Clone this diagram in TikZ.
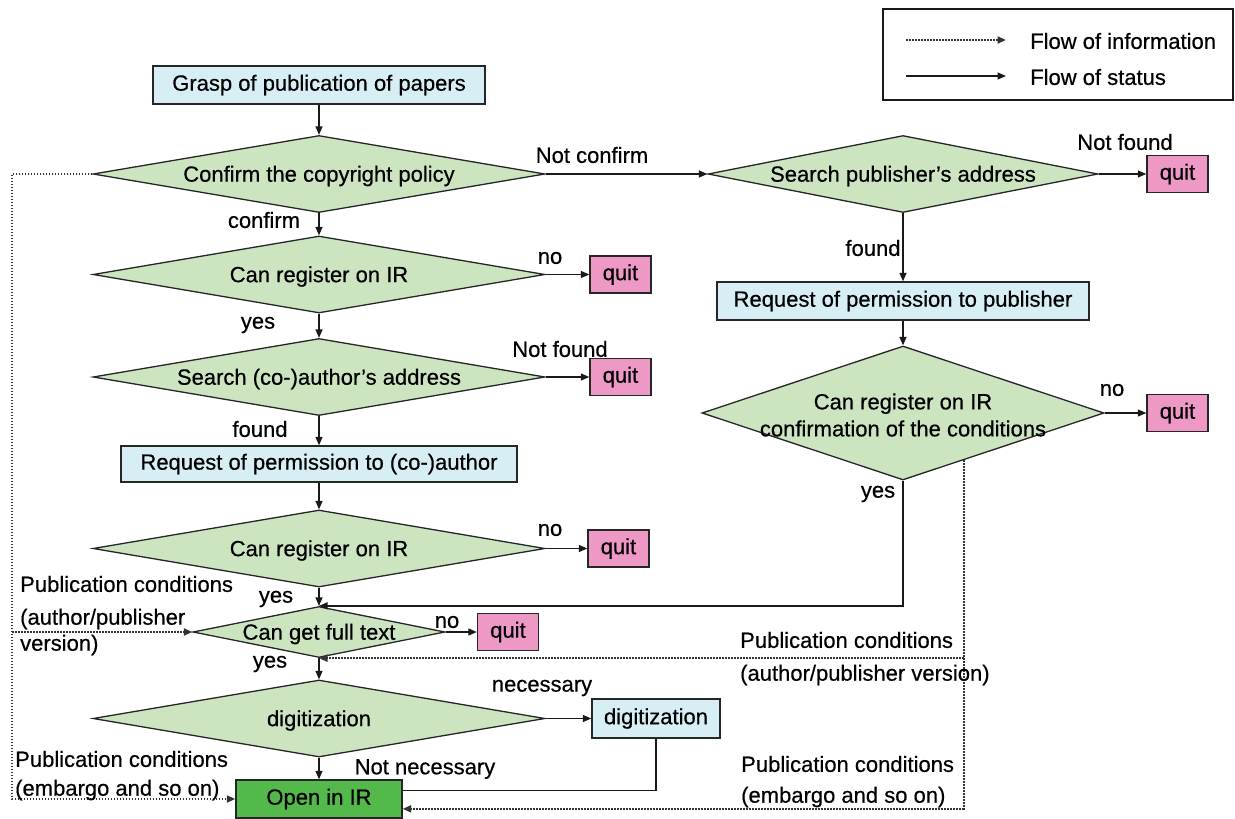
\documentclass[tikz,border=0pt]{standalone}
\usepackage{fontspec}
\setmainfont[FakeBold=0.5]{Liberation Sans}
\usetikzlibrary{shapes.geometric,arrows.meta,calc}
\newcommand\fsz{\fontsize{22}{27}\selectfont}
\definecolor{boxblue}{HTML}{D6EEF4}
\definecolor{decgreen}{HTML}{CDE4C1}
\definecolor{quitpink}{HTML}{EE98C6}
\definecolor{opengreen}{HTML}{52B94A}
\begin{document}
\begin{tikzpicture}[x=1pt,y=-1pt,font=\fsz,
  >={Triangle[length=8.5pt,width=7pt]},
  flow/.style={->,line width=1.3pt,draw=black!90},
  info/.style={->,line width=2pt,draw=black!80,dash pattern=on 1.6pt off 1.4pt},
  procbox/.style={draw=black!85,line width=1.4pt,fill=boxblue,inner sep=0pt},
  quitbox/.style={draw=black!85,line width=1.4pt,fill=quitpink,minimum width=61pt,minimum height=37pt,inner sep=0pt},
  decision/.style={draw=black!85,line width=1.3pt,fill=decgreen,diamond,inner sep=0pt},
  dtext/.style={yshift=-2pt},
  lbl/.style={inner sep=0pt}
]
\useasboundingbox (0,0) rectangle (1235,819);

% legend
\node[draw=black!90,line width=1.1pt,minimum width=350pt,minimum height=91pt,inner sep=0pt] (leg) at (1058,54.5) {};
\coordinate (la1) at (906,40);
\coordinate (la2) at (1006,40);
\coordinate (lb1) at (906,76);
\coordinate (lb2) at (1006,76);
\draw[info] (la1) -- (la2);
\draw[flow] (lb1) -- (lb2);
\node[lbl,anchor=west] (lt1) at (1030,41) {Flow of information};
\node[lbl,anchor=west] (lt2) at (1030,77) {Flow of status};

% main column
\node[procbox,minimum width=332pt,minimum height=38pt] (G) at (319,85) {Grasp of publication of papers};
\node[decision,minimum width=452pt,minimum height=77pt,label={[dtext]center:{Confirm the copyright policy}}] (D1) at (319,174) {};
\node[decision,minimum width=452pt,minimum height=77pt,label={[dtext]center:{Can register on IR}}] (D2) at (319,274.5) {};
\node[quitbox] (Q1) at (620.5,274.5) {quit};
\node[decision,minimum width=452pt,minimum height=77pt,label={[dtext]center:{Search (co-)author’s address}}] (D3) at (319,377) {};
\node[quitbox] (Q2) at (620.5,377) {quit};
\node[procbox,minimum width=396pt,minimum height=36pt] (R1) at (319,464) {Request of permission to (co-)author};
\node[decision,minimum width=452pt,minimum height=77pt,label={[dtext]center:{Can register on IR}}] (D4) at (319,548.5) {};
\node[quitbox] (Q3) at (618.5,548.5) {quit};
\node[decision,minimum width=252pt,minimum height=51pt,label={[dtext]center:{Can get full text}}] (D5) at (319,632) {};
\node[quitbox] (Q4) at (508,632) {quit};
\node[decision,minimum width=452pt,minimum height=77pt,label={[dtext]center:{digitization}}] (D6) at (319,718.5) {};
\node[procbox,minimum width=128pt,minimum height=39pt] (DG) at (656,718.5) {digitization};
\node[draw=black!85,line width=1.4pt,fill=opengreen,inner sep=0pt,minimum width=166pt,minimum height=38pt] (O) at (319,799) {Open in IR};

% right column
\node[decision,minimum width=390pt,minimum height=77pt,label={[dtext]center:{Search publisher’s address}}] (D7) at (903,174) {};
\node[quitbox] (Q5) at (1177.5,174) {quit};
\node[procbox,minimum width=372pt,minimum height=38pt] (R2) at (903,301) {Request of permission to publisher};
\node[decision,minimum width=402pt,minimum height=134pt,label={[align=center,dtext]center:{Can register on IR\\confirmation of the conditions}}] (D8) at (903,413) {};
\node[quitbox] (Q6) at (1177.5,413) {quit};

% status flow
\draw[flow] (G.south) -- (D1.north);
\draw[flow] (D1.south) -- (D2.north);
\draw[flow] (D2.east) -- (Q1.west);
\draw[flow] (D2.south) -- (D3.north);
\draw[flow] (D3.east) -- (Q2.west);
\draw[flow] (D3.south) -- (R1.north);
\draw[flow] (R1.south) -- (D4.north);
\draw[flow] (D4.east) -- (Q3.west);
\draw[flow] (D4.south) -- (D5.north);
\draw[flow] (D5.east) -- (Q4.west);
\draw[flow] (D5.south) -- (D6.north);
\draw[flow] (D6.east) -- (DG.west);
\draw[flow] (D6.south) -- (O.north);
\coordinate (oe1) at ($(O.north east)!0.28!(O.south east)$);
\coordinate (oe2) at ($(O.north east)!0.75!(O.south east)$);
\draw[line width=1.3pt,draw=black!90] (DG.south) |- (oe1);
\draw[flow] (D1.east) -- (D7.west);
\draw[flow] (D7.east) -- (Q5.west);
\draw[flow] (D7.south) -- (R2.north);
\draw[flow] (R2.south) -- (D8.north);
\draw[flow] (D8.east) -- (Q6.west);
\draw[flow] (D8.south) |- (D5.north);

% information flow
\coordinate (lx) at (12,174);
\coordinate (lbr) at (12,632);
\draw[info] (D1.west) -- (lx) |- (O.west);
\draw[info] (lbr) -- (D5.west);
\coordinate (rs) at ($(D8.south)!0.3!(D8.east)$);
\draw[info] (rs) |- (oe2);
\draw[info] (rs |- D5.south) -- (D5.south);

% labels
\node[lbl] (t1) at (264,220) {confirm};
\node[lbl] (t2) at (258,325) {yes};
\node[lbl] (t3) at (260,429) {found};
\node[lbl] (t4) at (550,258) {no};
\node[lbl] (t5) at (560,349) {Not found};
\node[lbl] (t6) at (550,530) {no};
\node[lbl] (t7) at (276,599) {yes};
\node[lbl] (t8) at (447,622) {no};
\node[lbl] (t9) at (270,664) {yes};
\node[lbl] (t10) at (542,688) {necessary};
\node[lbl] (t11) at (425,769) {Not necessary};
\node[lbl] (t12) at (592,155) {Not confirm};
\node[lbl] (t13) at (1125,142) {Not found};
\node[lbl] (t14) at (873,248) {found};
\node[lbl] (t15) at (1112,390) {no};
\node[lbl] (t16) at (878,494) {yes};
\node[lbl,anchor=west] (p1) at (20,584) {Publication conditions};
\node[lbl,anchor=west] (p2) at (20,619) {(author/publisher};
\node[lbl,anchor=west] (p3) at (20,645) {version)};
\node[lbl,anchor=west] (p4) at (15,759) {Publication conditions};
\node[lbl,anchor=west] (p5) at (15,790) {(embargo and so on)};
\node[lbl,anchor=west] (p6) at (740,640) {Publication conditions};
\node[lbl,anchor=west] (p7) at (740,675) {(author/publisher version)};
\node[lbl,anchor=west] (p8) at (741,764) {Publication conditions};
\node[lbl,anchor=west] (p9) at (741,797) {(embargo and so on)};
\end{tikzpicture}
\end{document}
